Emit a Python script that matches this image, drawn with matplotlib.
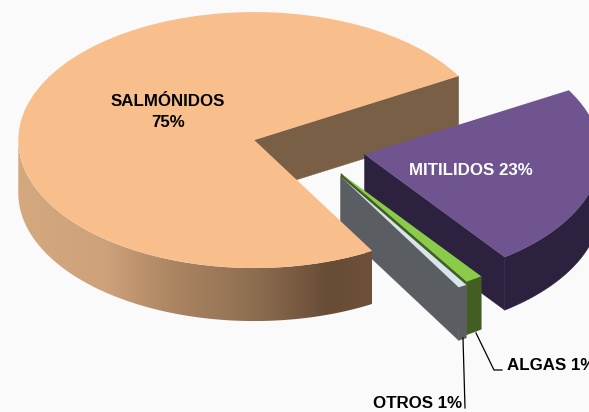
import numpy as np
import matplotlib
matplotlib.use("Agg")
import matplotlib.pyplot as plt
from matplotlib.colors import LinearSegmentedColormap
from matplotlib.patches import Polygon

plt.rcParams['font.family'] = ['Liberation Sans', 'DejaVu Sans']

categories = ["SALMÓNIDOS", "OTROS", "ALGAS", "MITILIDOS"]
values = [75.0, 0.6, 1.2, 23.2]

top_colors = ["#F8BF8C", "#D8E5EE", "#8ACB4A", "#6F5490"]
side_colors = ["#7A5F47", "#5A5E62", "#435E22", "#2C2240"]
salmon_stops = [(0.0, "#D4A97F"), (0.25, "#CDA17A"), (0.43, "#AD8663"), (0.66, "#8F6F52"),
                (0.88, "#674C36"), (1.0, "#6E5139")]

W, H = 589, 412
cx, cy = 309, 148     # pie centre in pixels
rx, ry = 236, 128     # ellipse radii in pixels
depth = 53 / ry

fig = plt.figure(figsize=(W / 100, H / 100), dpi=100, facecolor="#FAFAFA")
ax = fig.add_axes([0, 0, 1, 1])

wedges, _ = ax.pie(values, startangle=30, explode=[0.24, 0.26, 0.24, 0.24], colors=top_colors,
                   wedgeprops={"linewidth": 0})
ax.set_aspect("auto")


def arc(w, a, b):
    t = np.radians(np.linspace(a, b, 120))
    return w.center[0] + w.r * np.cos(t), w.center[1] + w.r * np.sin(t)


def wall_poly(w):
    # cut face on the theta1 edge, pushed down by the depth
    x0, y0 = w.center
    x1, y1 = arc(w, w.theta1, w.theta1)
    x1, y1 = x1[0], y1[0]
    return [(x0, y0), (x1, y1), (x1, y1 - depth), (x0, y0 - depth)]


def front_poly(w):
    # outer rim, only the part below the centre line shows
    a = max(w.theta1, 180)
    b = min(w.theta2, 360)
    x, y = arc(w, a, b)
    return np.vstack([np.c_[x, y], np.c_[x[::-1], y[::-1] - depth]])


order = {0: 8, 3: 2, 2: 4, 1: 6}
for i, w in enumerate(wedges):
    z = order[i]
    w.set_zorder(z + 1)
    wall_z = 1 if i == 0 else z
    ax.add_patch(Polygon(wall_poly(w), closed=True, fc=side_colors[i], ec=side_colors[i],
                         lw=0.3, zorder=wall_z))
    if i == 0:
        # salmon rim has a horizontal gradient
        front = Polygon(front_poly(w), closed=True, fc="none", ec="none", zorder=z)
        ax.add_patch(front)
        cmap = LinearSegmentedColormap.from_list("salmon", salmon_stops)
        x0 = w.center[0] - w.r
        x1 = w.center[0] + w.r * np.cos(np.radians(w.theta2))
        img = ax.imshow(np.linspace(0, 1, 256).reshape(1, -1), cmap=cmap, aspect="auto",
                        extent=(x0, x1, -2, 2), zorder=z)
        img.set_clip_path(front)
    else:
        ax.add_patch(Polygon(front_poly(w), closed=True, fc=side_colors[i], ec=side_colors[i],
                             lw=0.3, zorder=z))

ax.set_xlim(-cx / rx, (W - cx) / rx)
ax.set_ylim((cy - H) / ry, cy / ry)
ax.axis("off")


def px(x, y):
    return x / W, 1 - y / H


def label(x, y, s, color="black", ha="center"):
    fx, fy = px(x, y)
    fig.text(fx, fy, s, color=color, ha=ha, va="center", fontsize=12.2,
             fontweight="bold", linespacing=1.42, zorder=20)


label(168, 112, f"{categories[0]}\n{round(values[0])}%")
label(471, 170, f"{categories[3]} {round(values[3])}%", color="white")
label(507, 366, f"{categories[2]} {round(values[2])}%", ha="left")
label(462, 404, f"{categories[1]} {max(round(values[1]), 1)}%", ha="right")

for xs, ys in [((476, 494, 502), (333, 370, 370)), ((463, 465), (338, 408))]:
    fig.add_artist(plt.Line2D([a / W for a in xs], [1 - b / H for b in ys], color="black", lw=0.9))

fig.savefig("out.png", dpi=100, facecolor=fig.get_facecolor())
